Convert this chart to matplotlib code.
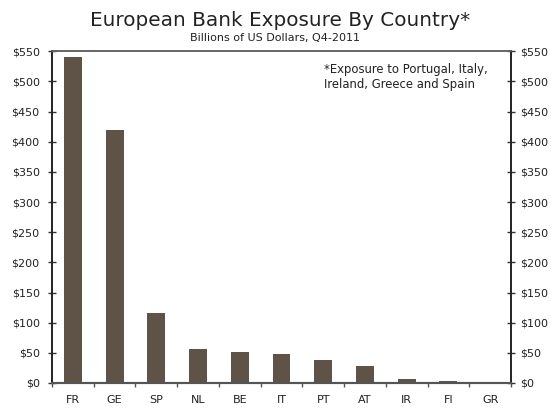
import matplotlib
matplotlib.use("Agg")
import matplotlib.pyplot as plt
import numpy as np

countries = ["FR", "GE", "SP", "NL", "BE", "IT", "PT", "AT", "IR", "FI", "GR"]
exposure = [540, 420, 116, 56, 51, 48, 38, 28, 6, 3, 1]
y_ticks = list(range(0, 551, 50))
y_labels = [f"${v}" for v in y_ticks]

bar_color = "#5E5346"
text_color = "#222222"

fig = plt.figure(figsize=(5.51, 4.09), dpi=100)
ax = fig.add_axes([0.0944, 0.0636, 0.833, 0.811])

x = np.arange(len(countries))
ax.bar(x, exposure, width=0.43, color=bar_color, zorder=2)

ax.set_xlim(-0.5, len(countries) - 0.5)
ax.set_ylim(0, 550)

# category labels centred under bars, tick marks at category boundaries
ax.set_xticks(x)
ax.set_xticklabels(countries, fontsize=8, color=text_color)
ax.tick_params(axis="x", which="major", length=0, pad=9)
ax.set_xticks(np.arange(-0.5, len(countries) + 0.5, 1), minor=True)
ax.tick_params(axis="x", which="minor", length=2.8, width=1, color="#555555",
               direction="out")

ax.set_yticks(y_ticks)
ax.set_yticklabels(y_labels)
ax.tick_params(axis="y", which="major", direction="inout", length=5.8, width=1,
               color="#333333", labelsize=8, labelcolor=text_color,
               left=True, right=False, labelleft=True, labelright=False, pad=6)

# mirrored dollar scale on the right
axr = ax.twinx()
axr.set_ylim(ax.get_ylim())
axr.set_yticks(y_ticks)
axr.set_yticklabels(y_labels)
axr.tick_params(axis="y", which="major", direction="inout", length=5.8, width=1,
                color="#333333", labelsize=8, labelcolor=text_color, pad=4)

for a in (ax, axr):
    for side in ["left", "right"]:
        a.spines[side].set_color("#222222")
        a.spines[side].set_linewidth(1.2)
    a.spines["bottom"].set_color("#555555")
    a.spines["bottom"].set_linewidth(1.5)
    a.spines["top"].set_color("#666666")
    a.spines["top"].set_linewidth(1.2)

fig.text(0.509, 0.951, "European Bank Exposure By Country*", ha="center",
         va="center", fontsize=14.4, color=text_color)
fig.text(0.499, 0.907, "Billions of US Dollars, Q4-2011", ha="center",
         va="center", fontsize=8, color=text_color)

ax.text(0.593, 0.964, "*Exposure to Portugal, Italy,\nIreland, Greece and Spain",
        transform=ax.transAxes, ha="left", va="top", fontsize=8.4,
        color=text_color, linespacing=1.2)

fig.savefig("out.png", dpi=100)
